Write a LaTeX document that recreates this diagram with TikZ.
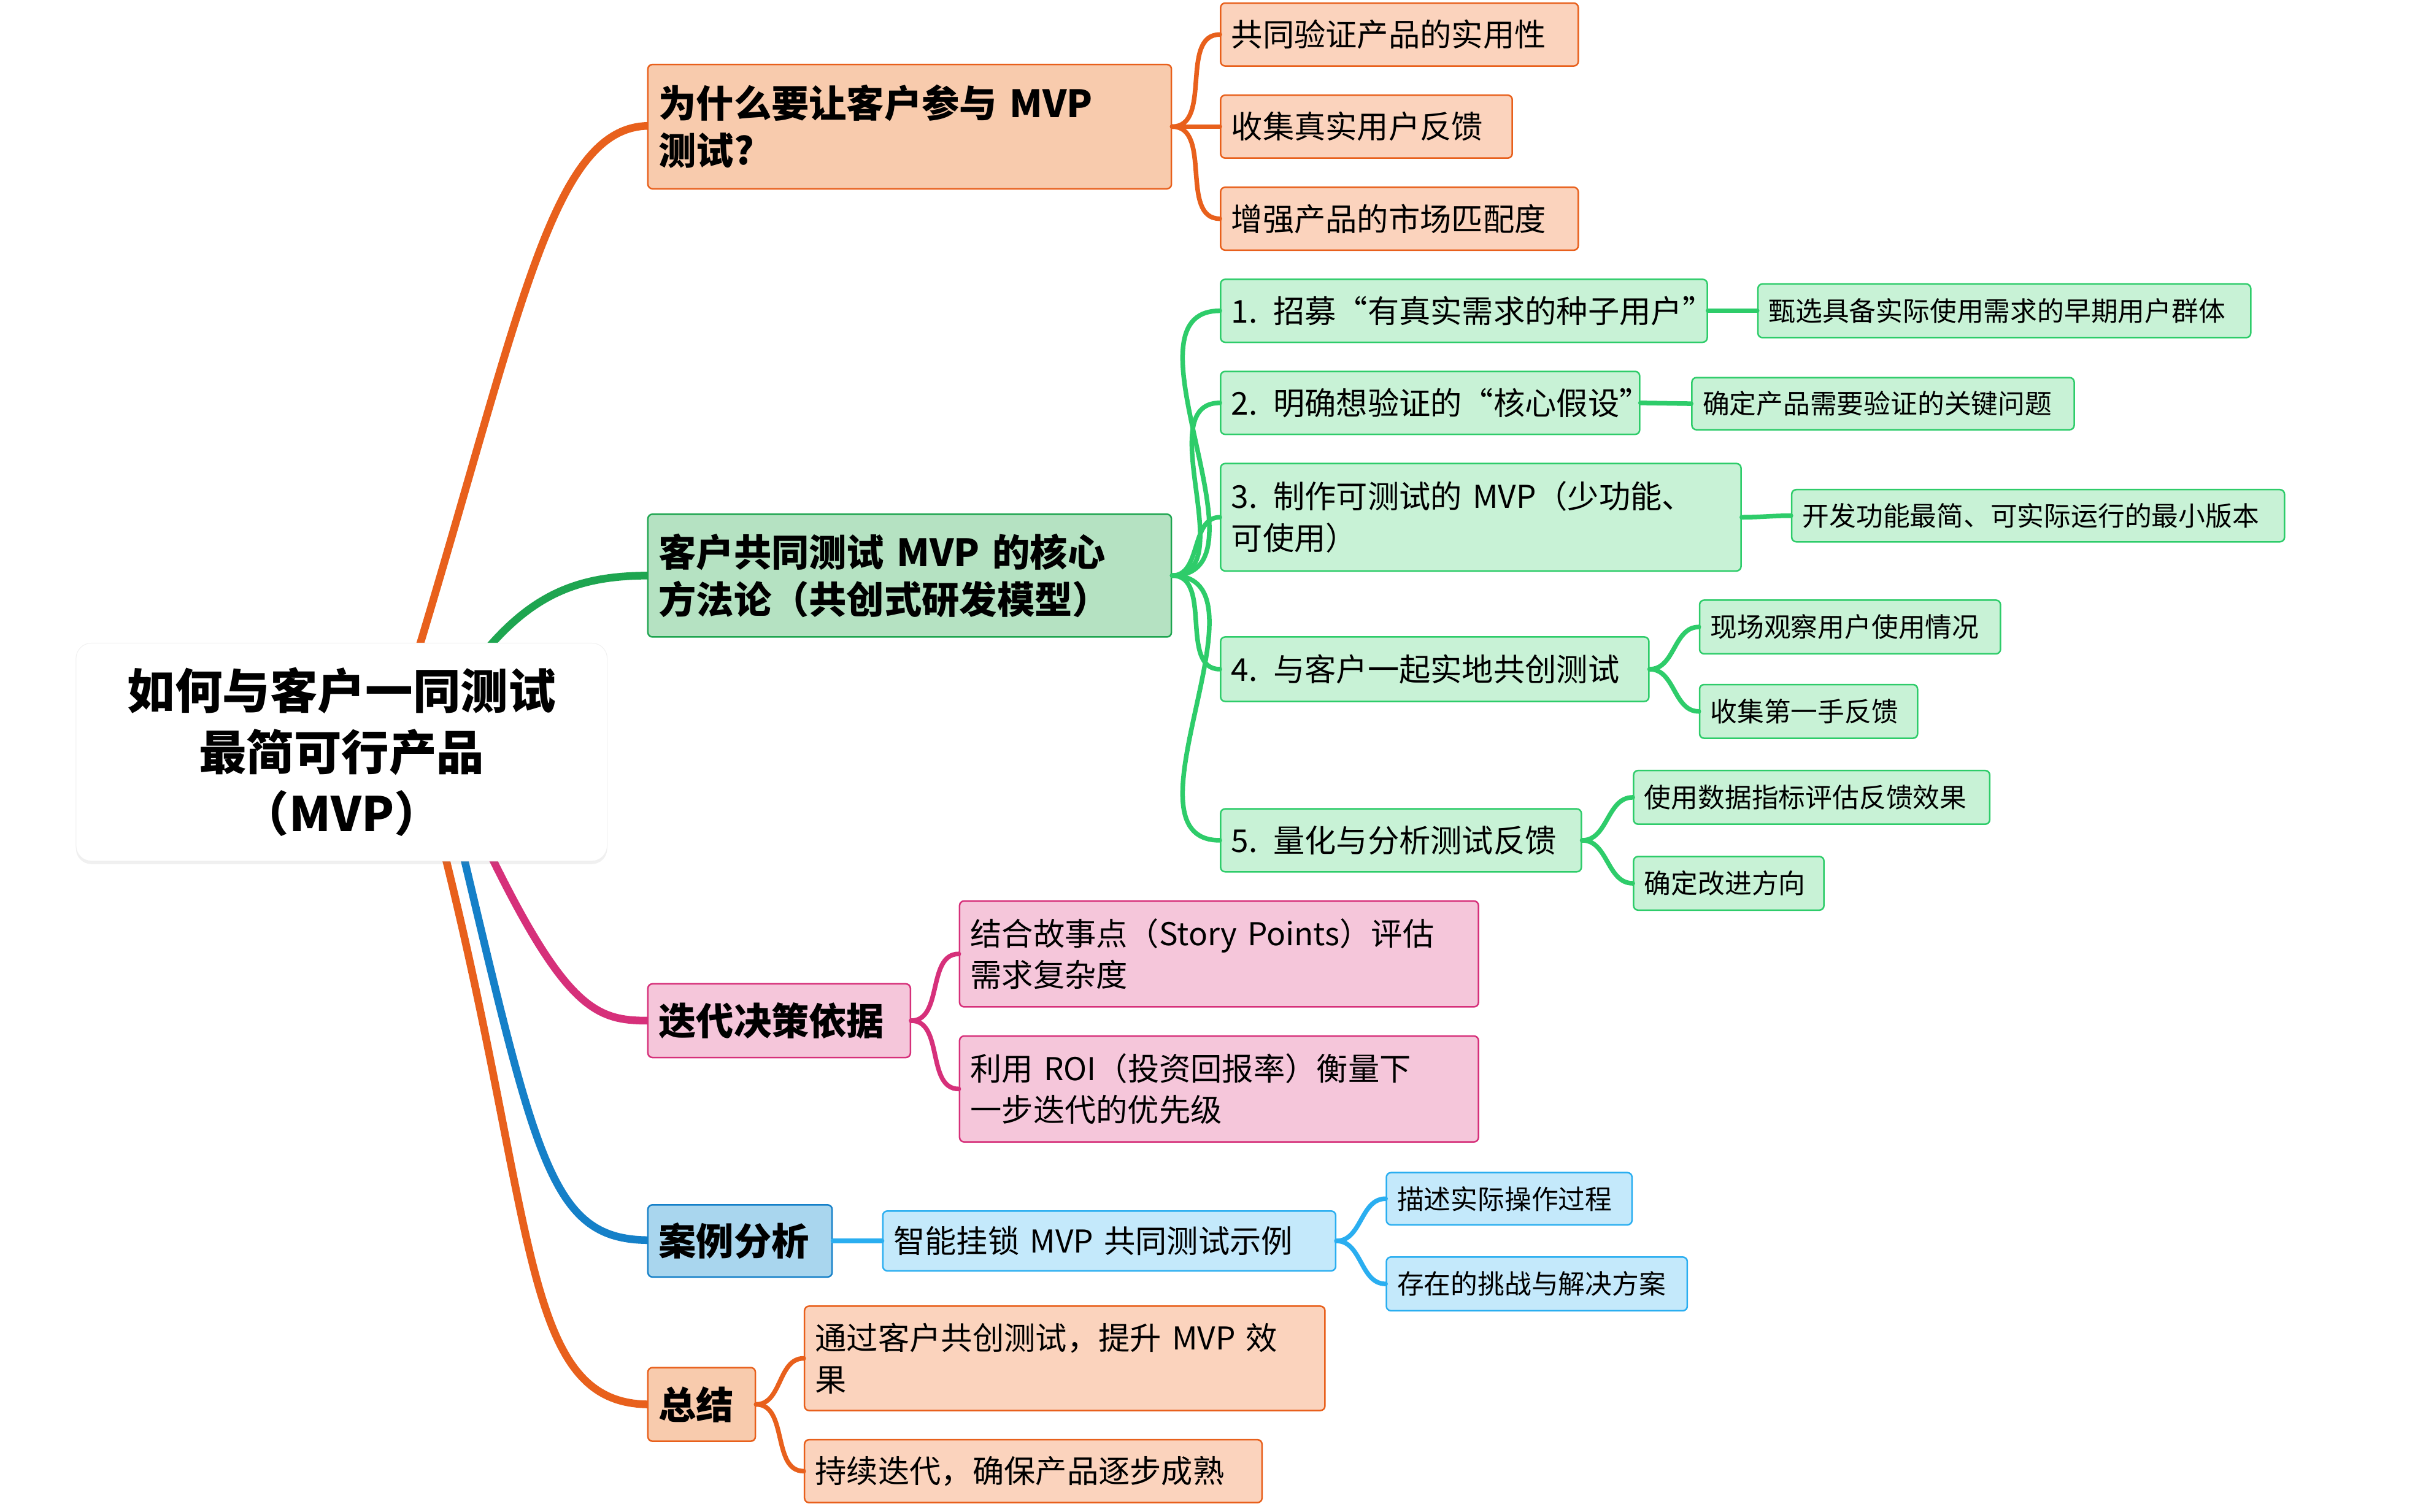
\documentclass[tikz,border=0pt]{standalone}
\usepackage{fontspec}
\setmainfont{Noto Sans CJK SC}
\usetikzlibrary{shadows}
\definecolor{orL}{HTML}{E8601C}
\definecolor{orF}{HTML}{F8CBAD}
\definecolor{orF2}{HTML}{FBD3BD}
\definecolor{grL}{HTML}{1EA550}
\definecolor{grF}{HTML}{B5E2C2}
\definecolor{gr2L}{HTML}{2ECC6A}
\definecolor{gr2F}{HTML}{C8F2D6}
\definecolor{pkL}{HTML}{D6307A}
\definecolor{pkF}{HTML}{F5C6DA}
\definecolor{blL}{HTML}{1580C8}
\definecolor{blF}{HTML}{A9D6EE}
\definecolor{bl2L}{HTML}{2AAEF0}
\definecolor{bl2F}{HTML}{C4E9FB}
\newcommand{\mmbox}[7]{%
 \pgfmathsetmacro{\mw}{#4-#2}\pgfmathsetmacro{\mh}{#5-#3}\pgfmathsetmacro{\tw}{#4-#2-14}%
 \node[#6,minimum width=\mw pt,minimum height=\mh pt,text width=\tw pt] (#1) at ({(#2+#4)/2},{(#3+#5)/2}) {#7};}
\begin{document}
\begin{tikzpicture}[x=1pt,y=-1pt,
 box/.style={draw,rounded corners=3pt,inner sep=0pt,align=left,line width=1pt},
 b1/.style={box,fill=orF,draw=orL,font=\fontsize{24.5}{31}\selectfont\bfseries},
 c1/.style={box,fill=orF2,draw=orL,font=\fontsize{20.5}{27}\selectfont},
 b2/.style={box,fill=grF,draw=grL,font=\fontsize{24.5}{31}\selectfont\bfseries},
 c2/.style={box,fill=gr2F,draw=gr2L,font=\fontsize{20.5}{27}\selectfont},
 g2/.style={box,fill=gr2F,draw=gr2L,font=\fontsize{17.5}{22}\selectfont},
 b3/.style={box,fill=pkF,draw=pkL,font=\fontsize{24.5}{31}\selectfont\bfseries},
 c3/.style={box,fill=pkF,draw=pkL,font=\fontsize{20.5}{27}\selectfont},
 b4/.style={box,fill=blF,draw=blL,font=\fontsize{24.5}{31}\selectfont\bfseries},
 c4/.style={box,fill=bl2F,draw=bl2L,font=\fontsize{20.5}{27}\selectfont},
 g4/.style={box,fill=bl2F,draw=bl2L,font=\fontsize{17.5}{22}\selectfont},
 e/.style={line width=3pt,line cap=round},
 m/.style={line width=5pt,line cap=round}]
\useasboundingbox (0,0) rectangle (1573,985);
% connectors from root (drawn first)
\coordinate (r1) at (272,425);
\coordinate (r2) at (318,422);
\coordinate (r3) at (320,558);
\coordinate (r4) at (302,558);
\coordinate (r5) at (290,558);
\coordinate (e1) at (423,82);
\coordinate (e2) at (423,375);
\coordinate (e3) at (423,665);
\coordinate (e4) at (423,808);
\coordinate (e5) at (423,915);
\draw[m,orL] (r1) .. controls (340,200) and (360,82) .. (e1);
\draw[m,grL] (r2) .. controls (350,385) and (380,375) .. (e2);
\draw[m,pkL] (r3) .. controls (370,660) and (390,665) .. (e3);
\draw[m,blL] (r4) .. controls (350,760) and (360,808) .. (e4);
\draw[m,orL] (r5) .. controls (350,800) and (340,915) .. (e5);
% nodes
\mmbox{B1}{422}{42}{763}{123}{b1}{为什么要让客户参与 MVP\\测试?}
\mmbox{A1}{795}{2}{1028}{43}{c1}{共同验证产品的实用性}
\mmbox{A2}{795}{62}{985}{103}{c1}{收集真实用户反馈}
\mmbox{A3}{795}{122}{1028}{163}{c1}{增强产品的市场匹配度}
\mmbox{B2}{422}{335}{763}{415}{b2}{客户共同测试 MVP 的核心\\方法论（共创式研发模型）}
\mmbox{C1}{795}{182}{1112}{223}{c2}{\mbox{1. 招募“有真实需求的种子用户”}}
\mmbox{D1}{1145}{185}{1466}{220}{g2}{甄选具备实际使用需求的早期用户群体}
\mmbox{C2}{795}{242}{1068}{283}{c2}{\mbox{2. 明确想验证的“核心假设”}}
\mmbox{D2}{1102}{246}{1351}{280}{g2}{确定产品需要验证的关键问题}
\mmbox{C3}{795}{302}{1134}{372}{c2}{3. 制作可测试的 MVP（少功能、\\可使用）}
\mmbox{D3}{1167}{319}{1488}{353}{g2}{开发功能最简、可实际运行的最小版本}
\mmbox{C4}{795}{415}{1074}{457}{c2}{4. 与客户一起实地共创测试}
\mmbox{D4}{1107}{391}{1303}{426}{g2}{现场观察用户使用情况}
\mmbox{D5}{1107}{446}{1249}{481}{g2}{收集第一手反馈}
\mmbox{C5}{795}{527}{1030}{568}{c2}{5. 量化与分析测试反馈}
\mmbox{D6}{1064}{502}{1296}{537}{g2}{使用数据指标评估反馈效果}
\mmbox{D7}{1064}{558}{1188}{593}{g2}{确定改进方向}
\mmbox{B3}{422}{641}{593}{689}{b3}{迭代决策依据}
\mmbox{P1}{625}{587}{963}{656}{c3}{结合故事点（Story Points）评估\\需求复杂度}
\mmbox{P2}{625}{675}{963}{744}{c3}{利用 ROI（投资回报率）衡量下\\一步迭代的优先级}
\mmbox{B4}{422}{785}{542}{832}{b4}{案例分析}
\mmbox{Q1}{575}{789}{870}{828}{c4}{智能挂锁 MVP 共同测试示例}
\mmbox{R1}{903}{764}{1063}{798}{g4}{描述实际操作过程}
\mmbox{R2}{903}{819}{1099}{854}{g4}{存在的挑战与解决方案}
\mmbox{B5}{422}{891}{492}{939}{b1}{总结}
\mmbox{S1}{524}{851}{863}{919}{c1}{通过客户共创测试，提升 MVP 效\\果}
\mmbox{S2}{524}{938}{822}{979}{c1}{持续迭代，确保产品逐步成熟}
\foreach \c in {A1,A2,A3}{\draw[e,orL] (B1.east) to[out=0,in=180] (\c.west);}
\foreach \c in {C1,C2,C3,C4,C5}{\draw[e,gr2L] (B2.east) to[out=0,in=180] (\c.west);}
\draw[e,gr2L] (C1.east) -- (D1.west);
\draw[e,gr2L] (C2.east) -- (D2.west);
\draw[e,gr2L] (C3.east) to[out=0,in=180] (D3.west);
\foreach \c in {D4,D5}{\draw[e,gr2L] (C4.east) to[out=0,in=180] (\c.west);}
\foreach \c in {D6,D7}{\draw[e,gr2L] (C5.east) to[out=0,in=180] (\c.west);}
\foreach \c in {P1,P2}{\draw[e,pkL] (B3.east) to[out=0,in=180] (\c.west);}
\draw[e,bl2L] (B4.east) -- (Q1.west);
\foreach \c in {R1,R2}{\draw[e,bl2L] (Q1.east) to[out=0,in=180] (\c.west);}
\foreach \c in {S1,S2}{\draw[e,orL] (B5.east) to[out=0,in=180] (\c.west);}
% root
\node[draw=black!6,fill=white,rounded corners=10pt,minimum width=346pt,minimum height=142pt,align=center,
 font=\fontsize{31}{40}\selectfont\bfseries,drop shadow={opacity=0.12,shadow xshift=0pt,shadow yshift=-2pt}] (root) at (222.5,490)
 {如何与客户一同测试\\最简可行产品\\（MVP）};
\end{tikzpicture}
\end{document}
